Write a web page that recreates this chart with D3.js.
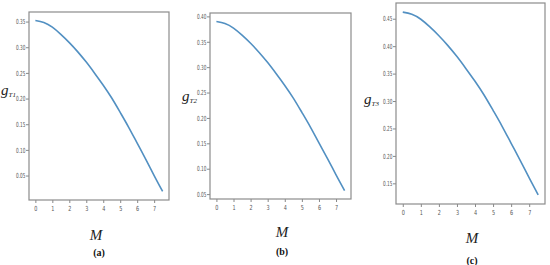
<!DOCTYPE html>
<html>
<head>
<meta charset="utf-8">
<script src="https://cdn.jsdelivr.net/npm/d3@7"></script>
<style>
  body { margin: 0; background: #fff; }
  svg { display: block; }
  .tick text { fill: #555; font-family: "DejaVu Sans", sans-serif; font-size: 7px; }
  .tick line { stroke: #888; }
</style>
</head>
<body>
<div id="chart-area"></div>
<script>
// values
var mValues = [0, 0.5, 1, 1.5, 2, 2.5, 3, 3.5, 4, 4.5, 5, 5.5, 6, 6.5, 7, 7.5];
var gT1 = [0.352, 0.348, 0.339, 0.325, 0.309, 0.291, 0.271, 0.249, 0.226, 0.201, 0.173, 0.144, 0.113, 0.082, 0.050, 0.019];
var gT2 = [0.390, 0.386, 0.377, 0.363, 0.347, 0.329, 0.309, 0.287, 0.264, 0.239, 0.211, 0.182, 0.151, 0.120, 0.088, 0.057];
var gT3 = [0.462, 0.458, 0.449, 0.435, 0.419, 0.401, 0.381, 0.359, 0.336, 0.311, 0.283, 0.254, 0.223, 0.192, 0.160, 0.129];

var xTicks = [0, 1, 2, 3, 4, 5, 6, 7];
var yTicksA = [0.05, 0.10, 0.15, 0.20, 0.25, 0.30, 0.35];
var yTicksB = [0.05, 0.10, 0.15, 0.20, 0.25, 0.30, 0.35, 0.40];
var yTicksC = [0.15, 0.20, 0.25, 0.30, 0.35, 0.40, 0.45];

var subLabels = ["T1", "T2", "T3"];
var panelLabels = ["(a)", "(b)", "(c)"];

// frame boxes and label spots
var panels = [
  {vals: gT1, yt: yTicksA, left: 29, right: 169, top: 12, bottom: 200, gx: 1, gy: 95, mx: 96, my: 240, px: 99, py: 256},
  {vals: gT2, yt: yTicksB, left: 210, right: 351, top: 13, bottom: 199, gx: 182, gy: 101, mx: 282, my: 237, px: 282, py: 255},
  {vals: gT3, yt: yTicksC, left: 396, right: 545, top: 3, bottom: 204, gx: 364, gy: 104, mx: 472, my: 243, px: 472, py: 264}
];

var svg = d3.select("#chart-area").append("svg")
    .attr("width", 550)
    .attr("height", 265);

panels.forEach(function(p, i) {
  var data = mValues.map(function(m, j) { return {m: m, g: p.vals[j]}; });

  // matplotlib style 5% margins
  var xe = d3.extent(mValues), ye = d3.extent(p.vals);
  var xm = (xe[1] - xe[0]) * 0.05, ym = (ye[1] - ye[0]) * 0.05;

  var x = d3.scaleLinear().domain([xe[0] - xm, xe[1] + xm]).range([p.left, p.right]);
  var y = d3.scaleLinear().domain([ye[0] - ym, ye[1] + ym]).range([p.bottom, p.top]);

  var g = svg.append("g");

  // x axis
  var xa = g.append("g")
      .attr("transform", "translate(0," + p.bottom + ")")
      .call(d3.axisBottom(x).tickValues(xTicks).tickSize(3).tickPadding(3).tickFormat(d3.format("d")));
  xa.select(".domain").remove();
  xa.selectAll("text").attr("transform", "scale(0.7,1)");

  // y axis
  var ya = g.append("g")
      .attr("transform", "translate(" + p.left + ",0)")
      .call(d3.axisLeft(y).tickValues(p.yt).tickSize(3).tickFormat(d3.format(".2f")));
  ya.select(".domain").remove();
  ya.selectAll("text").attr("x", -6).attr("transform", "scale(0.6,1)");

  // frame
  g.append("rect")
      .attr("x", p.left)
      .attr("y", p.top)
      .attr("width", p.right - p.left)
      .attr("height", p.bottom - p.top)
      .style("fill", "none")
      .style("stroke", "#8c8c8c")
      .style("stroke-width", 1.2);

  // curve
  g.append("path")
      .datum(data)
      .attr("d", d3.line()
        .x(function(d) { return x(d.m); })
        .y(function(d) { return y(d.g); })
        .curve(d3.curveNatural))
      .style("fill", "none")
      .style("stroke", "#5290c2")
      .style("stroke-width", 1.6);

  // y label g_T
  var gl = g.append("text")
      .attr("x", p.gx)
      .attr("y", p.gy)
      .style("font-family", "'Liberation Serif', serif")
      .style("font-style", "italic")
      .style("font-size", "15px")
      .style("fill", "#222");
  gl.append("tspan").text("g");
  gl.append("tspan").attr("dy", 2).style("font-size", "7px").text(subLabels[i]);

  // x label
  g.append("text")
      .attr("x", p.mx)
      .attr("y", p.my)
      .attr("text-anchor", "middle")
      .style("font-family", "'Liberation Serif', serif")
      .style("font-style", "italic")
      .style("font-size", "15px")
      .style("fill", "#222")
      .text("M");

  // panel letter
  g.append("text")
      .attr("x", p.px)
      .attr("y", p.py)
      .attr("text-anchor", "middle")
      .style("font-family", "'Liberation Serif', serif")
      .style("font-weight", "bold")
      .style("font-size", "10px")
      .style("fill", "#111")
      .text(panelLabels[i]);
});
</script>
</body>
</html>
